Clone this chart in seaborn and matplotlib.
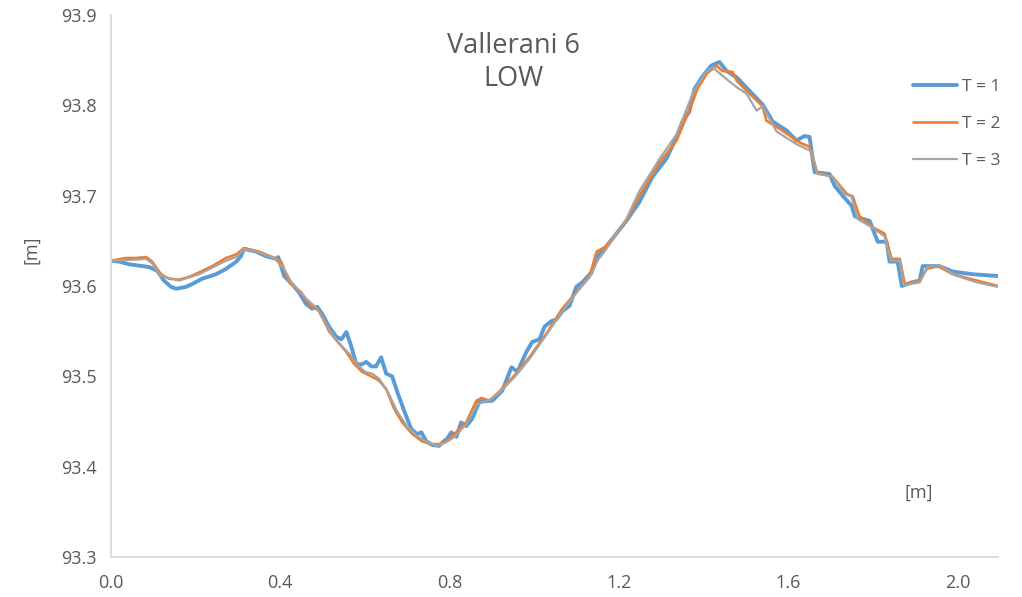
import matplotlib
matplotlib.use("Agg")
import matplotlib.pyplot as plt
import seaborn as sns
import pandas as pd

# T = 1
x1 = [0.000, 0.019, 0.043, 0.090, 0.109, 0.125, 0.142, 0.154, 0.177, 0.191,
      0.215, 0.248, 0.272, 0.296, 0.307, 0.314, 0.343, 0.366, 0.390, 0.395,
      0.409, 0.428, 0.444, 0.461, 0.475, 0.487, 0.499, 0.515, 0.532, 0.544,
      0.556, 0.567, 0.579, 0.591, 0.603, 0.615, 0.626, 0.638, 0.650, 0.664,
      0.676, 0.693, 0.709, 0.723, 0.733, 0.745, 0.759, 0.775, 0.783, 0.794,
      0.804, 0.816, 0.827, 0.839, 0.853, 0.870, 0.901, 0.924, 0.946, 0.960,
      0.981, 0.995, 1.012, 1.024, 1.040, 1.052, 1.066, 1.083, 1.099, 1.113,
      1.135, 1.149, 1.170, 1.184, 1.217, 1.232, 1.248, 1.279, 1.312, 1.336,
      1.350, 1.366, 1.378, 1.397, 1.418, 1.437, 1.454, 1.478, 1.508, 1.539,
      1.563, 1.596, 1.619, 1.638, 1.650, 1.662, 1.697, 1.709, 1.728, 1.749,
      1.757, 1.792, 1.811, 1.832, 1.839, 1.858, 1.868, 1.891, 1.910, 1.917,
      1.957, 1.988, 2.035, 2.095]
y1 = [93.628, 93.627, 93.624, 93.621, 93.617, 93.606, 93.599, 93.597, 93.599, 93.602,
      93.608, 93.613, 93.619, 93.627, 93.633, 93.641, 93.638, 93.633, 93.630, 93.632,
      93.611, 93.602, 93.593, 93.580, 93.575, 93.577, 93.569, 93.555, 93.544, 93.541,
      93.549, 93.534, 93.514, 93.513, 93.516, 93.511, 93.511, 93.521, 93.503, 93.500,
      93.483, 93.461, 93.442, 93.436, 93.438, 93.428, 93.424, 93.423, 93.427, 93.431,
      93.438, 93.433, 93.449, 93.445, 93.453, 93.472, 93.473, 93.484, 93.510, 93.505,
      93.527, 93.538, 93.541, 93.555, 93.561, 93.563, 93.572, 93.578, 93.599, 93.604,
      93.615, 93.633, 93.644, 93.652, 93.672, 93.682, 93.693, 93.721, 93.741, 93.765,
      93.782, 93.793, 93.818, 93.832, 93.844, 93.848, 93.838, 93.831, 93.816, 93.801,
      93.782, 93.772, 93.761, 93.766, 93.765, 93.726, 93.724, 93.711, 93.700, 93.689,
      93.677, 93.672, 93.649, 93.649, 93.627, 93.627, 93.600, 93.604, 93.606, 93.622,
      93.622, 93.616, 93.613, 93.611]

# T = 2
x2 = [0.000, 0.035, 0.059, 0.083, 0.097, 0.118, 0.137, 0.161, 0.184, 0.208,
      0.239, 0.272, 0.296, 0.314, 0.350, 0.381, 0.402, 0.421, 0.449, 0.468,
      0.492, 0.515, 0.534, 0.556, 0.574, 0.593, 0.615, 0.634, 0.650, 0.669,
      0.688, 0.712, 0.735, 0.757, 0.775, 0.792, 0.806, 0.839, 0.863, 0.875,
      0.894, 0.917, 0.957, 0.988, 1.028, 1.066, 1.099, 1.130, 1.147, 1.170,
      1.217, 1.248, 1.296, 1.336, 1.374, 1.385, 1.407, 1.430, 1.444, 1.468,
      1.478, 1.508, 1.539, 1.548, 1.579, 1.626, 1.650, 1.667, 1.704, 1.738,
      1.752, 1.768, 1.799, 1.827, 1.844, 1.863, 1.875, 1.910, 1.927, 1.953,
      1.988, 2.045, 2.095]
y2 = [93.628, 93.631, 93.631, 93.632, 93.627, 93.613, 93.608, 93.607, 93.610, 93.615,
      93.622, 93.631, 93.635, 93.642, 93.638, 93.632, 93.627, 93.604, 93.593, 93.580,
      93.572, 93.550, 93.539, 93.527, 93.514, 93.505, 93.500, 93.495, 93.486, 93.464,
      93.449, 93.436, 93.428, 93.425, 93.425, 93.428, 93.434, 93.449, 93.473, 93.476,
      93.473, 93.483, 93.503, 93.521, 93.547, 93.575, 93.593, 93.610, 93.638, 93.644,
      93.672, 93.700, 93.737, 93.761, 93.804, 93.818, 93.835, 93.844, 93.838, 93.837,
      93.827, 93.813, 93.799, 93.783, 93.774, 93.759, 93.754, 93.726, 93.721, 93.702,
      93.699, 93.677, 93.665, 93.658, 93.630, 93.630, 93.602, 93.606, 93.619, 93.622,
      93.613, 93.606, 93.600]

# T = 3
x3 = [0.000, 0.050, 0.083, 0.097, 0.118, 0.161, 0.208, 0.272, 0.296, 0.314,
      0.350, 0.385, 0.409, 0.426, 0.444, 0.468, 0.487, 0.515, 0.539, 0.563,
      0.582, 0.600, 0.617, 0.634, 0.657, 0.676, 0.700, 0.723, 0.747, 0.771,
      0.792, 0.811, 0.839, 0.865, 0.894, 0.917, 0.953, 0.988, 1.024, 1.066,
      1.102, 1.135, 1.149, 1.170, 1.217, 1.248, 1.296, 1.336, 1.374, 1.402,
      1.421, 1.454, 1.478, 1.501, 1.525, 1.539, 1.572, 1.619, 1.655, 1.669,
      1.704, 1.733, 1.749, 1.764, 1.797, 1.827, 1.842, 1.863, 1.872, 1.910,
      1.929, 1.957, 1.993, 2.045, 2.095]
y3 = [93.628, 93.629, 93.630, 93.625, 93.611, 93.606, 93.613, 93.628, 93.632, 93.641,
      93.637, 93.631, 93.619, 93.604, 93.594, 93.583, 93.575, 93.552, 93.536, 93.525,
      93.513, 93.505, 93.503, 93.497, 93.480, 93.461, 93.444, 93.434, 93.427, 93.423,
      93.427, 93.433, 93.447, 93.469, 93.474, 93.482, 93.499, 93.519, 93.543, 93.572,
      93.594, 93.613, 93.628, 93.641, 93.674, 93.705, 93.741, 93.768, 93.813, 93.835,
      93.842, 93.829, 93.820, 93.813, 93.794, 93.799, 93.771, 93.757, 93.749, 93.724,
      93.721, 93.702, 93.699, 93.674, 93.665, 93.655, 93.628, 93.628, 93.601, 93.604,
      93.621, 93.623, 93.612, 93.604, 93.599]

labels = ["T = 1", "T = 2", "T = 3"]
colors = ["#5B9BD5", "#ED7D31", "#A5A5A5"]
widths = [2.8, 1.9, 1.6]
x_ticks = [0.0, 0.4, 0.8, 1.2, 1.6, 2.0]
y_ticks = [93.3, 93.4, 93.5, 93.6, 93.7, 93.8, 93.9]

sns.set_theme(style="white")
plt.rcParams["font.family"] = ["Open Sans", "DejaVu Sans"]
text_color = "#595959"

fig = plt.figure(figsize=(10.22, 5.97), dpi=100)
ax = fig.add_axes([0.1086, 0.067, 0.8679, 0.9079])

series = [(x1, y1), (x2, y2), (x3, y3)]
for (xs, ys), lab, col, lw in zip(series, labels, colors, widths):
    df = pd.DataFrame({"x": xs, "y": ys})
    sns.lineplot(data=df, x="x", y="y", ax=ax, color=col, linewidth=lw,
                 label=lab, sort=False)

ax.set_xlim(0, 2.095)
ax.set_ylim(93.3, 93.9)
ax.set_xticks(x_ticks)
ax.set_xticklabels([f"{v:.1f}" for v in x_ticks])
ax.set_yticks(y_ticks)
ax.set_yticklabels([f"{v:.1f}" for v in y_ticks])
ax.tick_params(axis="both", labelsize=13, colors=text_color)
ax.tick_params(axis="x", direction="out", length=5, width=1, color="#D9D9D9", pad=7)
ax.tick_params(axis="y", direction="out", length=5, width=1, color="#D9D9D9", pad=5)

for side in ["top", "right"]:
    ax.spines[side].set_visible(False)
for side in ["left", "bottom"]:
    ax.spines[side].set_color("#D9D9D9")
    ax.spines[side].set_linewidth(1.3)

ax.set_xlabel("")
ax.set_ylabel("[m]", fontsize=13, color=text_color)
ax.yaxis.set_label_coords(-0.08, 0.566)
ax.text(0.911, 0.118, "[m]", transform=ax.transAxes, fontsize=13,
        color=text_color, ha="center", va="center")
ax.text(0.454, 0.912, "Vallerani 6\nLOW", transform=ax.transAxes, fontsize=19.5,
        color=text_color, ha="center", va="center", linespacing=1.25)

leg = ax.legend(loc="upper left", bbox_to_anchor=(0.896, 0.895), frameon=False,
                fontsize=12.5, handlelength=2.55, handletextpad=0.3,
                labelspacing=1.2, borderaxespad=0)
for t in leg.get_texts():
    t.set_color(text_color)

plt.savefig("out.png", dpi=100)
plt.close()
